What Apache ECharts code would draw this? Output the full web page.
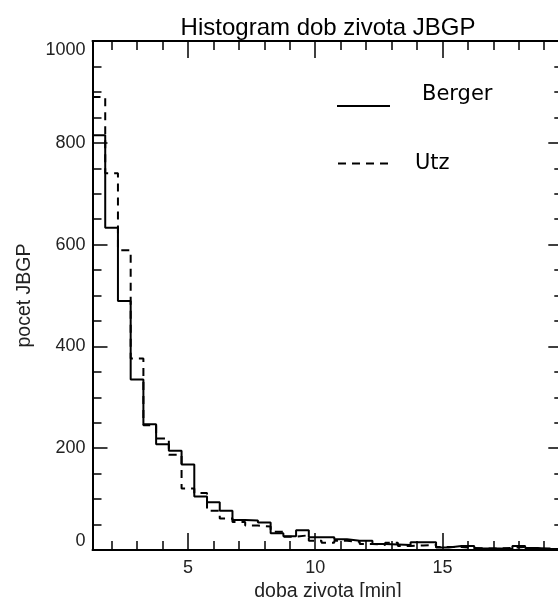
<!DOCTYPE html>
<html>
<head>
<meta charset="utf-8">
<script src="https://cdn.jsdelivr.net/npm/echarts@6.0.0/dist/echarts.min.js"></script>
<style>
  html, body { margin: 0; padding: 0; background: #fff; }
  #chart { width: 558px; height: 597px; }
</style>
</head>
<body>
<div id="chart"></div>
<script>
// levy okraj kazdeho binu (sirka 0.5 min)
const binStart = [1.25, 1.75, 2.25, 2.75, 3.25, 3.75, 4.25, 4.75, 5.25, 5.75,
  6.25, 6.75, 7.25, 7.75, 8.25, 8.75, 9.25, 9.75, 10.25, 10.75,
  11.25, 11.75, 12.25, 12.75, 13.25, 13.75, 14.25, 14.75, 15.25, 15.75,
  16.25, 16.75, 17.25, 17.75, 18.25, 18.75, 19.25];
const binEnd = 19.75;

const berger = [815, 633, 489, 335, 247, 208, 195, 168, 105, 94,
  77, 59, 58, 54, 33, 27, 39, 25, 25, 21,
  18, 18, 12, 11, 10, 15, 15, 5, 8, 8,
  3, 3, 2, 8, 4, 2, 2];
const utz = [890, 740, 589, 376, 245, 219, 187, 121, 112, 77,
  62, 55, 48, 46, 36, 26, 29, 18, 14, 18,
  16, 12, 10, 14, 8, 9, 10, 6, 6, 4,
  3, 3, 4, 6, 2, 3, 1];

const xMajorTicks = [5, 10, 15];
const xMinorTicks = [2, 3, 4, 6, 7, 8, 9, 11, 12, 13, 14, 16, 17, 18, 19];

const FONT = 'Liberation Sans';
const LINE = { color: '#000', width: 2 };

const toSteps = (vals) =>
  binStart.map((x, i) => [x, vals[i]]).concat([[binEnd, vals[vals.length - 1]]]);

const xAxisBase = (pos, ticks, len, showLine, showLabel) => ({
  type: 'value',
  gridIndex: 0,
  position: pos,
  min: binStart[0],
  max: binEnd,
  axisLine: { show: showLine, onZero: false, lineStyle: LINE },
  axisTick: { show: true, inside: true, length: len, customValues: ticks, lineStyle: { color: '#000', width: 1.5 } },
  axisLabel: showLabel
    ? { show: true, customValues: ticks, fontFamily: FONT, fontSize: 18, color: '#222', margin: 9 }
    : { show: false },
  splitLine: { show: false },
  minorTick: { show: false }
});

const yAxisBase = (pos, showLabel) => ({
  type: 'value',
  position: pos,
  min: 0,
  max: 1000,
  interval: 200,
  axisLine: { show: true, onZero: false, lineStyle: LINE },
  axisTick: { show: true, inside: true, length: 15, lineStyle: { color: '#000', width: 1.5 } },
  minorTick: { show: true, splitNumber: 4, length: 9, lineStyle: { color: '#000', width: 1.5 } },
  axisLabel: showLabel
    ? {
        show: true, fontFamily: FONT, fontSize: 18, color: '#222', margin: 7,
        formatter: (v) => String(v),
        showMinLabel: true, showMaxLabel: true,
        verticalAlignMaxLabel: 'top', verticalAlignMinLabel: 'bottom'
      }
    : { show: false },
  splitLine: { show: false }
});

const chart = echarts.init(document.getElementById('chart'), null, { renderer: 'canvas' });

const legendBase = {
  orient: 'vertical',
  padding: 0,
  itemWidth: 53,
  itemHeight: 14,
  selectedMode: false,
  itemStyle: { opacity: 0 }
};

const option = {
  animation: false,
  backgroundColor: '#fff',
  title: {
    text: 'Histogram dob zivota JBGP',
    left: 323,
    top: 11,
    textAlign: 'center',
    textStyle: { fontFamily: FONT, fontSize: 24, fontWeight: 'normal', color: '#000' }
  },
  legend: [
    Object.assign({}, legendBase, {
      data: ['Berger'],
      left: 336,
      top: 84,
      formatter: '{t|{name}}',
      textStyle: {
        fontFamily: 'DejaVu Sans', fontSize: 21, color: '#000', padding: [0, 0, 0, 27],
        rich: { t: { fontFamily: 'DejaVu Sans', fontSize: 21, color: '#000', lineHeight: 44, verticalAlign: 'top' } }
      }
    }),
    Object.assign({}, legendBase, {
      data: ['Utz'],
      left: 337,
      top: 153,
      textStyle: { fontFamily: 'DejaVu Sans', fontSize: 21, color: '#000', padding: [0, 0, 0, 19] }
    })
  ],
  grid: {
    left: 92.5,
    top: 41,
    width: 470.8,
    height: 509,
    containLabel: false,
    outerBoundsMode: 'none'
  },
  xAxis: [
    Object.assign(xAxisBase('bottom', xMajorTicks, 17, true, true), {
      name: 'doba zivota [min]',
      nameLocation: 'middle',
      nameGap: 22,
      nameTextStyle: { fontFamily: FONT, fontSize: 19.5, color: '#222' }
    }),
    xAxisBase('bottom', xMinorTicks, 9, false, false),
    xAxisBase('top', xMajorTicks, 17, true, false),
    xAxisBase('top', xMinorTicks, 9, false, false)
  ],
  yAxis: [
    Object.assign(yAxisBase('left', true), {
      name: 'pocet JBGP',
      nameLocation: 'middle',
      nameGap: 54,
      nameTextStyle: { fontFamily: FONT, fontSize: 19.5, color: '#222' }
    }),
    yAxisBase('right', false)
  ],
  series: [
    {
      name: 'Berger',
      type: 'line',
      step: 'end',
      xAxisIndex: 0,
      yAxisIndex: 0,
      symbol: 'none',
      color: '#000',
      lineStyle: { color: '#000', width: 2, type: 'solid' },
      data: toSteps(berger)
    },
    {
      name: 'Utz',
      type: 'line',
      step: 'end',
      xAxisIndex: 0,
      yAxisIndex: 0,
      symbol: 'none',
      color: '#000',
      lineStyle: { color: '#000', width: 2, type: [8, 6] },
      data: toSteps(utz)
    }
  ]
};

chart.setOption(option);
</script>
</body>
</html>
